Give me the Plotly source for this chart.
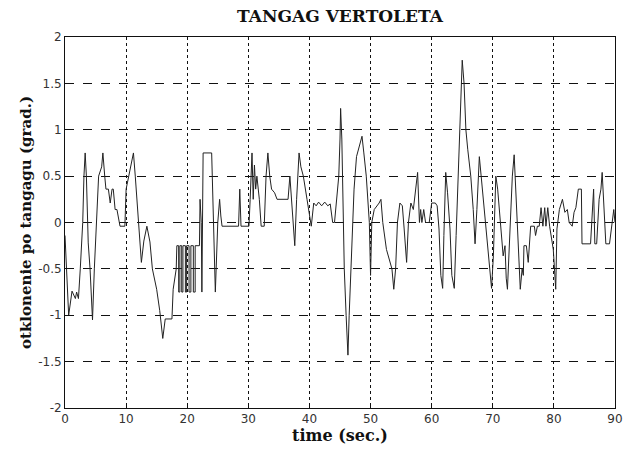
import plotly.graph_objects as go

time_s = [0.0, 0.3, 0.6, 1.15, 1.7, 1.9, 2.2, 2.5, 2.9, 3.1, 3.3, 3.5, 3.8, 4.1, 4.5,
          4.8, 5.2, 5.5, 6.0, 6.2, 6.5, 6.7, 7.1, 7.4, 7.7, 7.9, 8.2, 8.5, 9.0, 9.8,
          10.0, 10.6, 11.2, 11.5, 12.0, 12.3, 12.5, 12.9, 13.4, 13.9, 14.3, 15.0, 15.5, 16.0, 16.4,
          17.5, 17.7, 18.2, 18.3, 18.6, 18.6, 18.8, 18.8, 19.1, 19.1, 19.3, 19.3, 19.7, 19.7,
          19.9, 19.9, 20.3, 20.3, 20.6, 20.6, 21.0, 21.0, 21.3, 21.3, 22.0, 22.1, 22.3, 22.4,
          22.6, 24.0, 24.3, 24.6, 25.0, 25.3, 25.5, 25.7, 28.4, 28.6, 28.8, 30.1, 30.3, 30.5,
          30.6, 30.8, 31.0, 31.2, 31.4, 31.8, 32.1, 32.6, 32.9, 33.2, 33.5, 33.8, 34.3, 34.7,
          36.5, 36.8, 37.1, 37.6, 37.9, 38.3, 38.6, 39.0, 39.6, 40.1, 40.3, 40.7, 41.1, 41.5,
          42.0, 42.5, 43.0, 43.4, 43.8, 44.1, 44.6, 44.8, 45.0, 45.1, 45.3, 45.4, 45.7, 46.0,
          46.3, 46.5, 46.8, 47.3, 47.7, 48.0, 48.6, 48.9, 49.3, 49.8, 50.0, 50.2, 50.6, 51.4,
          51.7, 52.0, 52.6, 53.5, 53.8, 54.1, 54.4, 54.8, 55.2, 55.5, 55.9, 56.2, 56.6, 57.0,
          57.4, 57.7, 58.0, 58.2, 58.4, 58.7, 59.0, 59.6, 60.0, 60.6, 60.9, 61.2, 61.5, 61.8,
          62.0, 62.3, 62.6, 63.0, 63.3, 63.7, 64.0, 64.3, 64.6, 64.8, 65.0, 65.3, 65.6, 65.9,
          66.4, 66.8, 67.1, 67.4, 67.8, 68.1, 68.6, 69.1, 69.6, 69.8, 70.1, 70.5, 70.8, 71.3,
          71.7, 72.0, 72.2, 72.4, 72.7, 73.0, 73.2, 73.5, 73.7, 74.0, 74.3, 74.5, 74.8, 75.0,
          75.1, 75.5, 75.8, 76.0, 76.2, 76.8, 77.0, 77.3, 77.6, 77.9, 78.2, 78.5, 78.7, 79.0,
          79.3, 79.9, 80.1, 80.3, 80.5, 80.9, 81.4, 81.8, 82.2, 82.5, 83.0, 83.3, 83.6, 84.0,
          84.5, 84.6, 86.0, 86.3, 86.5, 86.7, 87.0, 87.4, 87.7, 87.9, 88.2, 88.5, 89.1, 89.6,
          89.8, 90.0]

pitch_deg = [-0.14, -0.5, -1.0, -0.74, -0.82, -0.75, -0.82, -0.5, 0.0, 0.5, 0.75, 0.5, -0.22, -0.5, -1.05,
             -0.5, 0.0, 0.5, 0.6, 0.75, 0.5, 0.36, 0.36, 0.21, 0.36, 0.36, 0.14, 0.14, -0.04, -0.04,
             0.36, 0.57, 0.75, 0.5, 0.0, -0.3, -0.43, -0.2, -0.04, -0.21, -0.5, -0.72, -0.95, -1.25, -1.04,
             -1.04, -0.72, -0.5, -0.25, -0.25, -0.75, -0.75, -0.25, -0.25, -0.75, -0.75, -0.25, -0.25, -0.75,
             -0.75, -0.25, -0.25, -0.75, -0.75, -0.25, -0.25, -0.75, -0.75, -0.25, -0.25, 0.25, 0.0, -0.75,
             0.75, 0.75, 0.0, -0.75, 0.0, 0.25, 0.07, -0.04, -0.04, 0.36, -0.04, -0.04, 0.25, 0.5,
             0.75, 0.25, 0.62, 0.36, 0.5, 0.25, -0.04, -0.04, 0.5, 0.75, 0.5, 0.36, 0.32, 0.25,
             0.25, 0.5, 0.25, -0.25, 0.25, 0.75, 0.6, 0.5, 0.25, 0.0, -0.04, 0.21, 0.18, 0.22,
             0.18, 0.22, 0.18, 0.2, 0.0, 0.0, 0.36, 0.5, 0.9, 1.23, 0.9, 0.5, -0.5, -1.0,
             -1.43, -1.0, -0.5, 0.36, 0.71, 0.78, 0.93, 0.75, 0.5, 0.0, -0.57, 0.0, 0.14, 0.21,
             0.25, 0.0, -0.29, -0.5, -0.72, -0.5, 0.0, 0.21, 0.18, -0.07, -0.43, 0.0, 0.21, 0.14,
             0.36, 0.54, 0.0, 0.14, 0.0, 0.14, 0.0, 0.0, 0.21, 0.21, 0.18, -0.07, -0.57, -0.71,
             -0.14, 0.54, 0.32, -0.07, -0.57, -0.71, -0.14, 0.5, 1.0, 1.5, 1.75, 1.5, 1.0, 0.79,
             0.5, 0.14, -0.23, 0.14, 0.71, 0.5, 0.14, -0.21, -0.5, -0.71, -0.36, 0.5, 0.36, 0.0,
             -0.36, -0.25, -0.6, -0.72, -0.22, 0.36, 0.5, 0.73, 0.43, 0.0, -0.43, -0.72, -0.5, -0.57,
             -0.25, -0.25, -0.43, -0.25, -0.04, -0.04, -0.14, -0.04, -0.04, 0.16, -0.04, 0.16, -0.04, 0.16,
             -0.04, -0.29, -0.57, -0.72, -0.07, 0.14, 0.25, 0.11, 0.14, 0.0, -0.04, 0.11, 0.16, 0.36,
             0.36, -0.23, -0.23, 0.14, 0.36, -0.23, -0.23, 0.25, 0.36, 0.54, 0.14, -0.23, -0.23, 0.0,
             0.14, 0.0]

x_tick_vals = [0, 10, 20, 30, 40, 50, 60, 70, 80, 90]
x_tick_text = ["0", "10", "20", "30", "40", "50", "60", "70", "80", "90"]
y_tick_vals = [2, 1.5, 1, 0.5, 0, -0.5, -1, -1.5, -2]
y_tick_text = ["2", "1.5", "1", "0.5", "0", "-0.5", "-1", "-1.5", "-2"]

fig = go.Figure()
fig.add_trace(go.Scatter(x=time_s, y=pitch_deg, mode="lines",
                         line=dict(color="#222222", width=1), showlegend=False))

serif = "DejaVu Serif, Liberation Serif, serif"
tickfont = dict(family="DejaVu Sans, sans-serif", size=12, color="#333333")

fig.update_layout(
    width=625, height=449,
    margin=dict(l=65, r=10, t=37, b=41, autoexpand=False),
    paper_bgcolor="white", plot_bgcolor="white",
    title=dict(text="<b>TANGAG VERTOLETA</b>", x=0.544, xanchor="center",
               yref="container", y=0.978, yanchor="top",
               font=dict(family=serif, size=17, color="#111111")),
    xaxis=dict(range=[0, 90], tickvals=x_tick_vals, ticktext=x_tick_text, automargin=False,
               showgrid=True, gridcolor="#111111", griddash="dot", gridwidth=1,
               showline=True, linecolor="#111111", linewidth=1, mirror=True,
               ticks="inside", ticklen=4, tickcolor="#111111",
               tickfont=tickfont, zeroline=False,
               title=dict(text="<b>time (sec.)</b>", standoff=1,
                          font=dict(family=serif, size=16, color="#111111"))),
    yaxis=dict(range=[-2, 2], tickvals=y_tick_vals, ticktext=y_tick_text, automargin=False,
               showgrid=True, gridcolor="#111111", griddash="dash", gridwidth=1,
               showline=True, linecolor="#111111", linewidth=1, mirror=True,
               ticks="inside", ticklen=4, tickcolor="#111111",
               tickfont=tickfont, zeroline=False,
               title=dict(text="<b>otklonenie po tangagu (grad.)</b>", standoff=2,
                          font=dict(family=serif, size=15, color="#111111"))),
)

fig.write_html("out.html", config={"displayModeBar": False},
               post_script="document.body.style.margin='0px';document.body.style.overflow='hidden';")
